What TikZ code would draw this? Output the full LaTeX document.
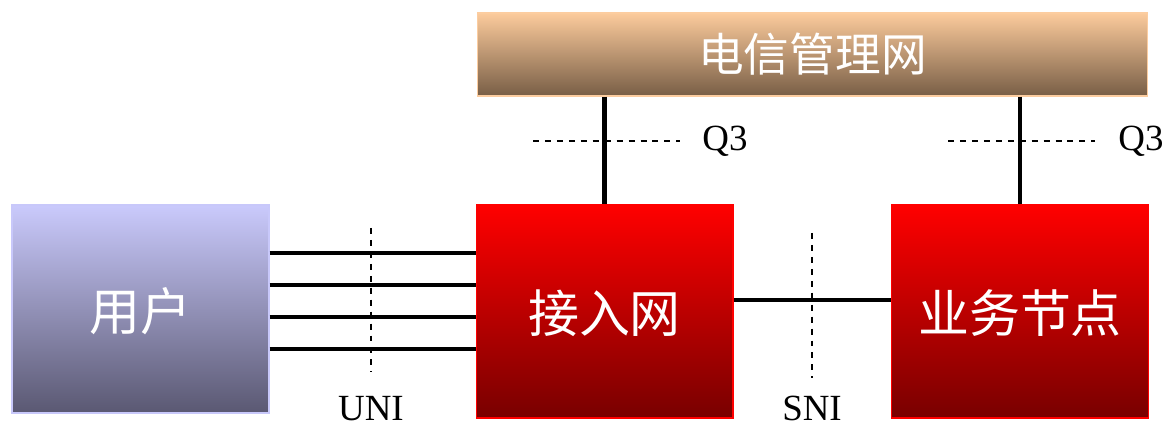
\documentclass[tikz,border=0pt]{standalone}
\usepackage{fontspec}
\setmainfont{Liberation Serif}
\newfontfamily\cjk{Noto Sans CJK SC}
\tikzset{
  box/.style={rectangle,draw,line width=0.6pt,text=white,font=\cjk\fontsize{29}{33}\selectfont,
    minimum width=5.14cm,minimum height=4.2cm,inner sep=0pt},
  link/.style={line width=2.8pt},
  iface/.style={line width=1.1pt,dash pattern=on 3.4pt off 3.4pt},
  lbl/.style={font=\fontsize{21}{24}\selectfont,inner sep=0pt}
}
\begin{document}
\begin{tikzpicture}[x=0.02cm,y=-0.02cm]
        \useasboundingbox (0,0) rectangle (1168,428);

        \node[box,draw={rgb,255:red,200;green,200;blue,250},top color={rgb,255:red,202;green,202;blue,252},
              bottom color={rgb,255:red,90;green,88;blue,114},minimum height=4.16cm,text depth=-0.12cm] (user) at (140.5,309) {用户};
        \node[box,draw=red,top color=red,bottom color={rgb,255:red,120;green,0;blue,0},minimum height=4.26cm,text depth=-0.12cm]
              (access) at (604.5,311.5) {接入网};
        \node[box,draw=red,top color=red,bottom color={rgb,255:red,120;green,0;blue,0},minimum height=4.26cm,text depth=-0.12cm]
              (service) at (1020,311.5) {业务节点};
        \node[box,draw={rgb,255:red,252;green,205;blue,160},top color={rgb,255:red,252;green,203;blue,156},
              bottom color={rgb,255:red,120;green,94;blue,70},minimum width=13.42cm,minimum height=1.66cm,
              font=\cjk\fontsize{26}{30}\selectfont]
              (tmn) at (812.5,54.5) {电信管理网};

        % user-network lines
        \foreach \i/\y in {1/253,2/285,3/317,4/349} {
          \coordinate (l\i) at (0,\y);
          \draw[link] (user.east |- l\i) -- (access.west |- l\i);
        }
        \coordinate (l5) at (0,300);
        \draw[link] (access.east |- l5) -- (service.west |- l5);
        \path[link] (tmn.south -| access) edge (access.north);
        \path[link] (tmn.south -| service) edge (service.north);

        % interfaces
        \coordinate (uni1) at (371,228);
        \coordinate (uni2) at (371,372);
        \coordinate (sni1) at (812,233);
        \coordinate (sni2) at (812,378);
        \coordinate (qa1) at (533,141);
        \coordinate (qa2) at (680,141);
        \coordinate (qb1) at (948,141);
        \coordinate (qb2) at (1095,141);
        \draw[iface] (uni1) -- (uni2);
        \draw[iface] (sni1) -- (sni2);
        \draw[iface] (qa1) -- (qa2);
        \draw[iface] (qb1) -- (qb2);

        \node[lbl] (uni) at (371,409) {UNI};
        \node[lbl] (sni) at (812,408) {SNI};
        \node[lbl] (qa) at (725,141) {Q3};
        \node[lbl] (qb) at (1141,141) {Q3};
      \end{tikzpicture}
\end{document}
